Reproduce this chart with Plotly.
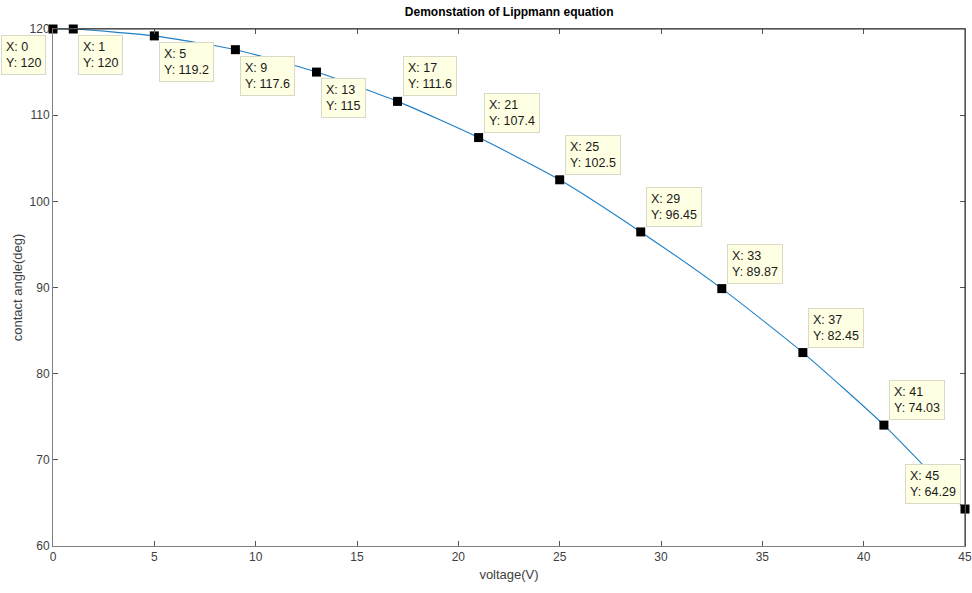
import plotly.graph_objects as go

# ---- data ----
voltage = [0, 1, 5, 9, 13, 17, 21, 25, 29, 33, 37, 41, 45]
angle = [120, 120, 119.2, 117.6, 115, 111.6, 107.4, 102.5, 96.45, 89.87, 82.45, 74.03, 64.29]
angle_labels = ["120", "120", "119.2", "117.6", "115", "111.6", "107.4", "102.5",
                "96.45", "89.87", "82.45", "74.03", "64.29"]
x_ticks = [0, 5, 10, 15, 20, 25, 30, 35, 40, 45]
y_ticks = [60, 70, 80, 90, 100, 110, 120]

# datatip placement relative to its point
tip_place = ["lb", "rb", "rb", "rb", "rb", "ra", "ra", "ra", "ra", "ra", "ra", "ra", "la"]

FONT = "Liberation Sans, Arial, Helvetica, sans-serif"
TXT = "#262626"

fig = go.Figure()
fig.add_trace(go.Scatter(
    x=voltage, y=angle, mode="lines",
    line=dict(color="#1f7fc4", width=1.1, shape="spline", smoothing=0.6),
    hoverinfo="skip", showlegend=False, cliponaxis=False,
))
fig.add_trace(go.Scatter(
    x=voltage, y=angle, mode="markers",
    marker=dict(symbol="square", size=9, color="black", line=dict(width=0)),
    hoverinfo="skip", showlegend=False, cliponaxis=False,
))

annotations = []
for xv, yv, lab, p in zip(voltage, angle, angle_labels, tip_place):
    if p == "rb":
        xa, ya, xs, ys = "left", "top", 5, -6
    elif p == "ra":
        xa, ya, xs, ys = "left", "bottom", 5, 5
    elif p == "lb":
        xa, ya, xs, ys = "right", "top", -7, -6
    else:
        xa, ya, xs, ys = "right", "bottom", -4, 5
    annotations.append(dict(
        x=xv, y=yv, xref="x", yref="y", showarrow=False,
        text=f"X: {xv}<br>Y: {lab}", align="left",
        xanchor=xa, yanchor=ya, xshift=xs, yshift=ys,
        font=dict(family=FONT, size=12.5, color="#1a1a1a"),
        bgcolor="#FFFFE3", bordercolor="#D9D9C8", borderwidth=1, borderpad=4,
    ))

fig.update_layout(
    width=972, height=593,
    margin=dict(l=53, r=7, t=29, b=47, autoexpand=False),
    paper_bgcolor="white", plot_bgcolor="white",
    font=dict(family=FONT, size=12, color=TXT),
    title=dict(text="<b>Demonstation of Lippmann equation</b>",
               x=0.5238, xanchor="center", y=0.98, yanchor="middle",
               font=dict(family=FONT, size=12, color="black")),
    annotations=annotations,
    shapes=[
        dict(type="line", xref="paper", yref="paper", x0=0, x1=1, y0=1, y1=1,
             line=dict(color="#262626", width=1)),
        dict(type="line", xref="paper", yref="paper", x0=1, x1=1, y0=0, y1=1,
             line=dict(color="#262626", width=1)),
    ],
)
fig.update_xaxes(
    range=[0, 45], tickvals=x_ticks, ticks="inside", ticklen=5, tickcolor="#555",
    showline=True, linecolor="#808080", linewidth=1, mirror="ticks",
    showgrid=False, zeroline=False, automargin=False,
    tickfont=dict(family=FONT, size=12, color="#404040"),
    title=dict(text="voltage(V)", font=dict(family=FONT, size=13, color="#404040"),
               standoff=6),
)
fig.update_yaxes(
    range=[60, 120], tickvals=y_ticks, ticks="inside", ticklen=5, tickcolor="#555",
    showline=True, linecolor="#808080", linewidth=1, mirror="ticks",
    showgrid=False, zeroline=False, automargin=False,
    tickfont=dict(family=FONT, size=12, color="#404040"),
    title=dict(text="contact angle(deg)", font=dict(family=FONT, size=13, color="#404040"),
               standoff=4),
)

fig.write_html("out.html")
